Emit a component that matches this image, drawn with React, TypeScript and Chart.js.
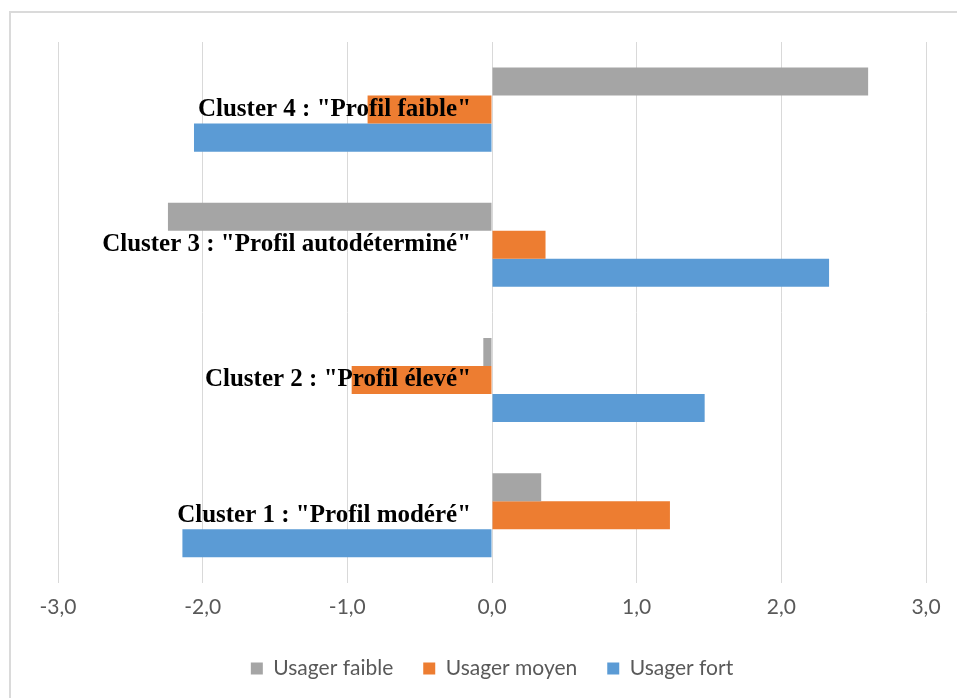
import React, { useEffect, useRef } from "react";
import { Chart, registerables } from "chart.js";

Chart.register(...registerables);

// Categories listed top to bottom as displayed
const categories = [
  'Cluster 4 : "Profil faible"',
  'Cluster 3 : "Profil autodéterminé"',
  'Cluster 2 : "Profil élevé"',
  'Cluster 1 : "Profil modéré"',
];

const usagerFaible = [2.6, -2.24, -0.06, 0.34];
const usagerMoyen = [-0.86, 0.37, -0.97, 1.23];
const usagerFort = [-2.06, 2.33, 1.47, -2.14];

const seriesNames = ["Usager faible", "Usager moyen", "Usager fort"];
const seriesColors = ["#A5A5A5", "#ED7D31", "#5B9BD5"];

const xMin = -3;
const xMax = 3;
const xStep = 1;
// category labels sit just left of the zero line
const labelAnchor = -0.145;

export default function App() {
  const canvasRef = useRef<HTMLCanvasElement | null>(null);

  useEffect(() => {
    if (!canvasRef.current) return;
    const values = [usagerFaible, usagerMoyen, usagerFort];
    const chart = new Chart(canvasRef.current, {
      type: "bar",
      data: {
        labels: categories,
        datasets: values.map((v, i) => ({
          label: seriesNames[i],
          data: v,
          backgroundColor: seriesColors[i],
          borderWidth: 0,
          categoryPercentage: 0.622,
          barPercentage: 1,
        })),
      },
      options: {
        indexAxis: "y",
        animation: false,
        responsive: true,
        maintainAspectRatio: false,
        layout: { padding: { left: 58, right: 31, top: 42, bottom: 9 } },
        plugins: {
          tooltip: { enabled: false },
          legend: {
            position: "bottom",
            labels: {
              boxWidth: 12,
              boxHeight: 12,
              padding: 30,
              color: "#595959",
              font: { family: "Lato", size: 21 },
            },
          },
        },
        scales: {
          x: {
            type: "linear",
            min: xMin,
            max: xMax,
            afterFit: (scale: any) => {
              scale.height -= 4;
            },
            ticks: {
              stepSize: xStep,
              padding: 12,
              color: "#595959",
              font: { family: "Lato", size: 21 },
              callback: (v: any) => Number(v).toFixed(1).replace(".", ","),
            },
            grid: { color: "#D9D9D9", lineWidth: 1, drawTicks: false },
            border: { display: false },
          },
          y: {
            type: "category",
            position: { x: labelAnchor } as any,
            z: 1,
            grid: { display: false, drawTicks: false },
            border: { display: false },
            ticks: {
              z: 1,
              padding: 0,
              color: "#000000",
              font: { family: "Liberation Serif", size: 25, weight: "bold" },
            } as any,
          },
        },
      },
    });
    return () => chart.destroy();
  }, []);

  return (
    <div
      style={{
        position: "fixed",
        left: 0,
        top: 0,
        width: 957,
        height: 698,
        overflow: "hidden",
        background: "#ffffff",
      }}
    >
      <div
        style={{
          position: "absolute",
          left: 9,
          top: 11,
          width: 1000,
          height: 800,
          border: "2px solid #DADADA",
          boxSizing: "border-box",
        }}
      />
      <canvas
        ref={canvasRef}
        style={{ position: "absolute", left: 0, top: 0, width: 957, height: 698 }}
      />
    </div>
  );
}
